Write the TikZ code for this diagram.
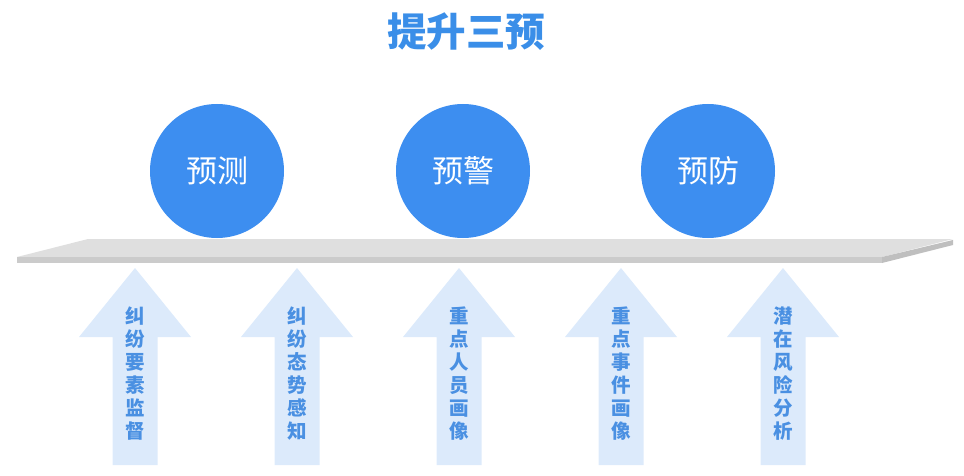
\documentclass[tikz,border=0pt]{standalone}
\usepackage{fontspec}
\setmainfont{Noto Sans CJK SC}
\usepackage{tikz}

\definecolor{titleblue}{HTML}{3A8EE8}
\definecolor{ballblue}{HTML}{3D8EF0}
\definecolor{arrowfill}{HTML}{DCEAFB}
\definecolor{arrowtext}{HTML}{4A90E2}
\definecolor{shelftop}{HTML}{DFDFDF}
\definecolor{shelffront}{HTML}{CBCBCB}
\definecolor{shelfside}{HTML}{BFBFBF}

\begin{document}
\begin{tikzpicture}[x=1pt, y=-1pt,
  ball/.style={shape=circle, fill=ballblue, minimum size=134pt, inner sep=0pt, text=white, font=\fontsize{31}{31}\selectfont},
  uparrow/.style={fill=arrowfill},
  arrowlabel/.style={align=center, text=arrowtext, font=\fontsize{19.5}{23}\selectfont\bfseries}]

\useasboundingbox (0, 0) rectangle (964, 476);

\node (title) [text=titleblue, font=\fontsize{39.5}{39.5}\selectfont\bfseries] at (466, 32) {提升三预};

% shelf
\fill[shelftop] (17, 257) -- (88, 239) -- (953, 239) -- (882, 257) -- cycle;
\fill[shelffront] (17, 257) rectangle (882, 263);
\fill[shelfside] (882, 257) -- (953, 240) -- (953, 245) -- (882, 263) -- cycle;

\node[ball] (predict) at (217, 171) {预测};
\node[ball] (warn) at (463, 171) {预警};
\node[ball] (prevent) at (708, 171) {预防};

% arrows
\fill[uparrow] (135, 268) -- (191, 337) -- (157.5, 337) -- (157.5, 465) -- (112.5, 465) -- (112.5, 337) -- (79, 337) -- cycle;
\fill[uparrow] (297, 268) -- (353, 337) -- (319.5, 337) -- (319.5, 465) -- (274.5, 465) -- (274.5, 337) -- (241, 337) -- cycle;
\fill[uparrow] (459, 268) -- (515, 337) -- (481.5, 337) -- (481.5, 465) -- (436.5, 465) -- (436.5, 337) -- (403, 337) -- cycle;
\fill[uparrow] (621, 268) -- (677, 337) -- (643.5, 337) -- (643.5, 465) -- (598.5, 465) -- (598.5, 337) -- (565, 337) -- cycle;
\fill[uparrow] (783, 268) -- (839, 337) -- (805.5, 337) -- (805.5, 465) -- (760.5, 465) -- (760.5, 337) -- (727, 337) -- cycle;

\node[arrowlabel] (watch) at (135, 374) {纠\\纷\\要\\素\\监\\督};
\node[arrowlabel] (sense) at (297, 374) {纠\\纷\\态\\势\\感\\知};
\node[arrowlabel] (people) at (459, 374) {重\\点\\人\\员\\画\\像};
\node[arrowlabel] (events) at (621, 374) {重\\点\\事\\件\\画\\像};
\node[arrowlabel] (risk) at (783, 374) {潜\\在\\风\\险\\分\\析};

\end{tikzpicture}
\end{document}
